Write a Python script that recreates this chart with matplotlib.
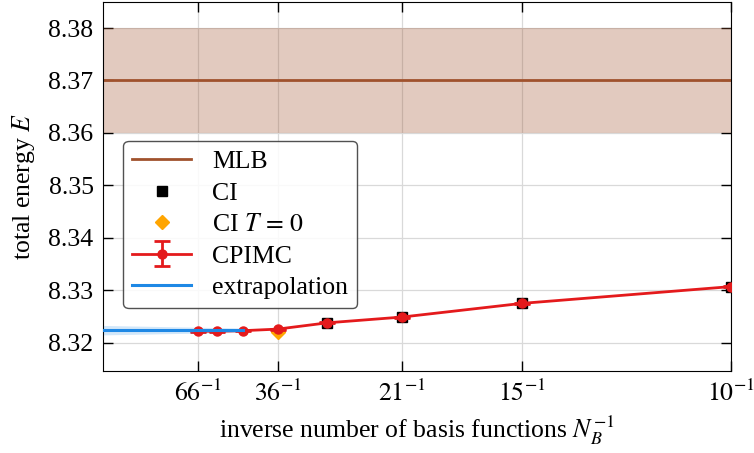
import numpy as np
import matplotlib
matplotlib.use("Agg")
import matplotlib.pyplot as plt

plt.rcParams["font.family"] = ["Liberation Serif", "DejaVu Serif"]
plt.rcParams["mathtext.fontset"] = "stix"
plt.rcParams["font.size"] = 18.5

# data
mlb_energy = 8.370
mlb_err = 0.010

ci_nb = [28, 21, 15, 10]
ci_energy = [8.3237, 8.3249, 8.3275, 8.3307]

ci_t0_nb = [36]
ci_t0_energy = [8.3220]

cpimc_nb = [66, 55, 45, 36, 28, 21, 15, 10]
cpimc_energy = [8.3222, 8.3222, 8.3223, 8.3226, 8.3238, 8.3249, 8.3275, 8.3307]
cpimc_err = [0.0001, 0.0001, 0.0001, 0.0001, 0.0001, 0.0001, 0.0001, 0.0001]

extrap_x = [0.0, 1 / 45]
extrap_energy = [8.3224, 8.3224]
extrap_err = [0.0009, 0.0004]

tick_nb = [66, 36, 21, 15, 10]


fig = plt.figure(figsize=(7.54, 4.53), dpi=100)
ax = fig.add_axes([0.137, 0.182, 0.832, 0.814])

sienna = "#a0522d"
ax.axhspan(mlb_energy - mlb_err, mlb_energy + mlb_err, color=sienna, alpha=0.3, lw=0, zorder=1)
h_mlb, = ax.plot([], [], color=sienna, lw=2, label="MLB")
ax.axhline(mlb_energy, color=sienna, lw=2, zorder=2)

h_ci, = ax.plot(1 / np.array(ci_nb), ci_energy, "s", color="black", ms=7.5, label="CI", zorder=3)
h_t0, = ax.plot(1 / np.array(ci_t0_nb), ci_t0_energy, "D", color="orange", ms=7,
                label=r"CI $T\,=\,0$", zorder=3)
h_cp = ax.errorbar(1 / np.array(cpimc_nb), cpimc_energy, yerr=cpimc_err, fmt="o-",
                   color="#e41a1c", ms=6.5, lw=2.0, capsize=6, capthick=2.0,
                   label="CPIMC", zorder=4)

ex = np.array(extrap_x)
ey = np.array(extrap_energy)
ee = np.array(extrap_err)
ax.fill_between(ex, ey - ee, ey + ee, color="#1e88e5", alpha=0.2, lw=0, zorder=4)
h_ex, = ax.plot(ex, ey, color="#1e88e5", lw=2.2, label="extrapolation", zorder=5)

ax.set_xlim(0, 0.1)
ax.set_ylim(8.3147, 8.385)
ax.set_xticks(1 / np.array(tick_nb))
ax.set_xticklabels([rf"${n}^{{-1}}$" for n in tick_nb])
ax.set_yticks([8.32, 8.33, 8.34, 8.35, 8.36, 8.37, 8.38])
ax.yaxis.set_major_formatter(matplotlib.ticker.FormatStrFormatter("%.2f"))

ax.tick_params(direction="in", length=7.5, width=1, top=True, right=True, pad=7)
ax.grid(True, color="#d9d9d9", lw=0.9, zorder=0)
ax.set_axisbelow(True)

ax.set_xlabel(r"inverse number of basis functions $N_B^{-1}$", labelpad=5)
ax.set_ylabel(r"total energy $E$", labelpad=8)

leg = ax.legend([h_mlb, h_ci, h_t0, h_cp, h_ex],
                ["MLB", "CI", r"CI $T\,=\,0$", "CPIMC", "extrapolation"],
                loc="upper left", bbox_to_anchor=(0.032, 0.622), borderaxespad=0,
                handlelength=2.3, handletextpad=0.8, labelspacing=0.33,
                borderpad=0.35, fancybox=True, edgecolor="#333333", framealpha=0.85)
leg.get_frame().set_linewidth(1.0)

fig.savefig("out.png", dpi=100)
